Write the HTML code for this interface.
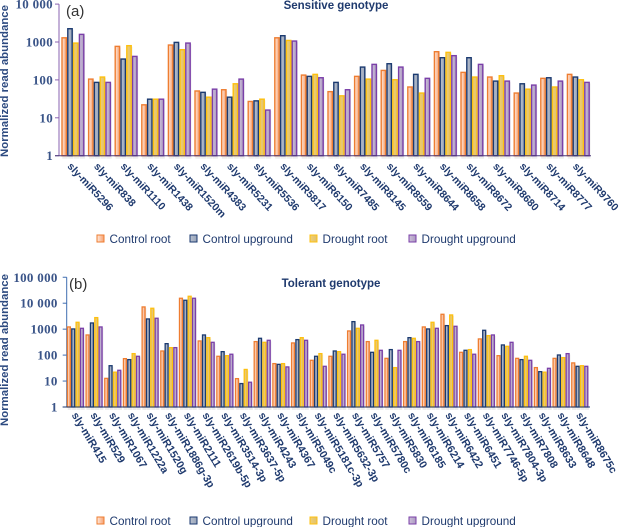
<!DOCTYPE html>
<html><head><meta charset="utf-8">
<style>
html,body{margin:0;padding:0;background:#fff}
svg{display:block}
.tick{font-family:"Liberation Serif",serif;font-weight:bold;font-size:13px;fill:#3a5488;letter-spacing:.3px}
.cat{font-family:"Liberation Sans",sans-serif;font-weight:bold;font-size:10.8px;fill:#1f3a6e}
.ttl{font-family:"Liberation Sans",sans-serif;font-weight:bold;font-size:11.5px;fill:#1f3a6e}
.ya{font-family:"Liberation Sans",sans-serif;font-weight:bold;font-size:11.4px;fill:#2d4a80}
.leg{font-family:"Liberation Sans",sans-serif;font-size:11.7px;fill:#1f3a6e}
.pan{font-family:"Liberation Sans",sans-serif;font-size:15px;fill:#333}
</style></head>
<body>
<svg id="c" width="619" height="527" viewBox="0 0 619 527" xmlns="http://www.w3.org/2000/svg">
<defs>
<linearGradient id="g0"><stop offset="0" stop-color="#ffeadd"/><stop offset="1" stop-color="#f6a070"/></linearGradient>
<linearGradient id="g1"><stop offset="0" stop-color="#b8c0cf"/><stop offset="1" stop-color="#98a4b8"/></linearGradient>
<linearGradient id="g2"><stop offset="0" stop-color="#f2cf70"/><stop offset="1" stop-color="#dfc070"/></linearGradient>
<linearGradient id="g3"><stop offset="0" stop-color="#cdbfdb"/><stop offset="1" stop-color="#ab9abf"/></linearGradient>
</defs>
</svg>
<script>
const seriesNames = ['Control root','Control upground','Drought root','Drought upground'];
const seriesStroke = ['#ee7d31','#1b3a70','#fdc010','#7a3fa8'];
const seriesFill = ['url(#g0)','url(#g1)','url(#g2)','url(#g3)'];

const catsA = ['sly-miR5296','sly-miR838','sly-miR1110','sly-miR1438','sly-miR1520m','sly-miR4383','sly-miR5231','sly-miR5536','sly-miR5817','sly-miR6150','sly-miR7485','sly-miR8145','sly-miR8559','sly-miR8644','sly-miR8658','sly-miR8672','sly-miR8680','sly-miR8714','sly-miR8777','sly-miR9760'];
const controlRootA = [1290,105,767,22,832,51,55,27,1290,134,49,124,178,65,555,158,119,45,110,140];
const controlUpA = [2240,86,355,31,977,47,35,28,1466,124,86,218,267,140,385,385,93,79,114,119];
const droughtRootA = [937,119,800,31,627,35,79,31,1100,140,38,105,101,45,533,119,129,57,65,101];
const droughtUpA = [1590,86,417,31,937,57,105,16,1060,114,55,257,218,110,436,257,93,73,93,86];
const ticksA = ['1','10','100','1000','10 000'];

const catsB = ['sly-miR415','sly-miR529','sly-miR1067','sly-miR1222a','sly-miR1520g','sly-miR1886g-3p','sly-miR2111','sly-miR2619b-5p','sly-miR3514-3p','sly-miR3637-5p','sly-miR4243','sly-miR4367','sly-miR5049c','sly-miR5181c-3p','sly-miR5632-3p','sly-miR5757','sly-miR5780c','sly-miR5830','sly-miR6185','sly-miR6214','sly-miR6422','sly-miR6451','sly-miR7746-5p','sly-miR7804-3p','sly-miR7808','sly-miR8633','sly-miR8648','sly-miR8675c'];
const controlRootB = [1216,597,12.7,73,7180,144,15500,351,90,12.4,331,47,294,63,90,852,331,75,331,1216,3740,128,420,95,75,33,75,50];
const controlUpB = [1018,1730,39,67,2473,276,12970,597,136,8,444,44,395,90,144,1950,128,163,470,1018,1370,153,904,246,67,23,101,37];
const droughtRootB = [1840,2786,22,114,6380,194,18500,470,95,28,311,47,470,114,136,1078,372,33,444,1840,3527,163,563,218,90,22,80,39];
const droughtUpB = [1078,1216,26,90,2630,194,15500,311,108,9,372,35,372,37,108,1450,153,153,331,1078,1290,108,597,311,63,31,114,37];
const ticksB = ['1','10','100','1000','10 000','100 000'];

const svg = document.getElementById('c');
const NS = 'http://www.w3.org/2000/svg';
function mk(tag, attrs, text){
  const el = document.createElementNS(NS, tag);
  for (const k in attrs) el.setAttribute(k, attrs[k]);
  if (text !== undefined) el.textContent = text;
  svg.appendChild(el);
  return el;
}
function drawPanel(p, cats, series, ticks){
  const y = v => p.base - Math.log10(v) * p.decade;
  const x = i => p.x0 + i * p.pitch;
  const axisY = mk('line',{x1:p.ax,x2:p.ax,y1:y(Math.pow(10,ticks.length-1)),y2:p.base,stroke:p.axisColor,'stroke-width':1});
  
  
  ticks.forEach((t,i)=>{
    const yy = p.base - i * p.decade;
    const m = mk('line',{x1:p.ax-4,x2:p.ax,y1:yy,y2:yy,stroke:p.axisColor,'stroke-width':1});
    
    
    const l = mk('text',{x:p.ax-p.tickGap,y:yy+4.5,'text-anchor':'end','class':'tick'},t);
    
    
  });
  cats.forEach((c,i)=>{
    series.forEach((vals,s)=>{
      const bx = x(i) + s * p.bw;
      const top = y(vals[i]);
      const sh = mk('rect',{x:bx+1,y:top+1,width:p.bw-.4,height:p.base-top+2,fill:'#000','fill-opacity':.07});
      
      
      const r = mk('rect',{x:bx+.7,y:top,width:p.bw-1.4,height:p.base-top,fill:seriesFill[s],stroke:seriesStroke[s],'stroke-width':p.sw});
      
      
    });
    const cx = x(i) + p.bw * 2;
    const lx = cx + p.lblDx, ly = p.base + p.lblDy;
    const t = mk('text',{x:lx,y:ly,transform:'rotate('+p.angle+' '+lx+' '+ly+')','class':'cat','font-size':p.lblSize,style:'font-size:'+p.lblSize+'px'},c);
    
    
  });
  const bl = mk('line',{x1:p.ax-4,x2:p.xEnd,y1:p.base,y2:p.base,stroke:p.baseColor,'stroke-width':1});
  
  
  const title = mk('text',{x:p.titleX,y:p.titleY,'text-anchor':'middle','class':'ttl'},p.title);
  
  
  const pl = mk('text',{x:p.panX,y:p.panY,'class':'pan'},p.panel);
  
  
  const yt = mk('text',{x:p.ytX,y:p.ytY,'text-anchor':'middle',transform:'rotate(-90 '+p.ytX+' '+p.ytY+')','class':'ya'},'Normalized read abundance');
  
  
  const lgX = [97,190,310,409];
  seriesNames.forEach((n,s)=>{
    const sq = mk('rect',{x:lgX[s],y:p.legY-4,width:7,height:7,fill:seriesFill[s],stroke:seriesStroke[s],'stroke-width':1});
    
    
    const tx = mk('text',{x:lgX[s]+12.5,y:p.legY+4,'class':'leg'},n);
    
    
  });
}
drawPanel({id:'sensitive',base:155.7,decade:37.9,x0:61.3,pitch:26.6,bw:5.8,ax:59,xEnd:591,sw:1.4,tickGap:6,axisColor:'#8a63b0',baseColor:'#4b3a78',
  lblDx:-6,lblDy:11,lblSize:10.5,angle:47,title:'Sensitive genotype',titleX:336,titleY:9,panel:'(a)',panX:66,panY:16,ytX:8,ytY:81,legY:239},
  catsA,[controlRootA,controlUpA,droughtRootA,droughtUpA],ticksA);
drawPanel({id:'tolerant',base:407,decade:25.95,x0:66.7,pitch:18.68,bw:4.35,ax:66.7,xEnd:590,sw:1.3,tickGap:9,axisColor:'#3f6db0',baseColor:'#1b3a70',
  lblDx:-4,lblDy:8,lblSize:10.8,angle:59,title:'Tolerant genotype',titleX:331,titleY:287,panel:'(b)',panX:69,panY:289,ytX:8,ytY:350,legY:521},
  catsB,[controlRootB,controlUpB,droughtRootB,droughtUpB],ticksB);
</script>
</body></html>
